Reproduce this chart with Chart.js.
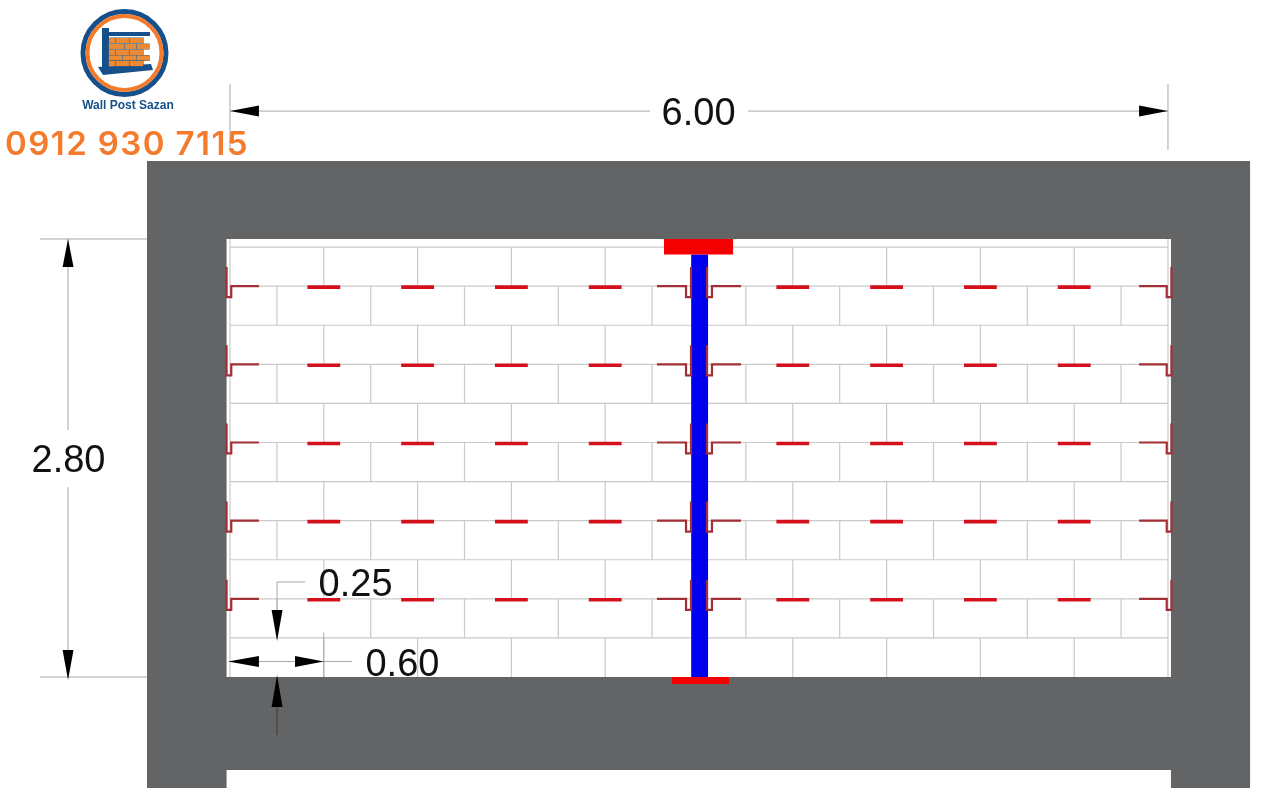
<!DOCTYPE html>
<html>
<head>
<meta charset="utf-8">
<title>Wall Post Sazan</title>
<script src="https://cdn.jsdelivr.net/npm/chart.js@4"></script>
<style>
  html, body { margin: 0; padding: 0; background: #fff; overflow: hidden; }
  canvas { display: block; }
</style>
</head>
<body>
<canvas id="myChart" width="1280" height="788"></canvas>
<script>
// everything below is in metres, the wall's lower left corner is 0,0
const wallWidth = 6;
const courseHeight = 0.25;
const courses = [1, 2, 3, 4, 5, 6, 7, 8, 9, 10, 11];
const jointsEven = [0.6, 1.2, 1.8, 2.4, 3.0, 3.6, 4.2, 4.8, 5.4];
const jointsOdd = [0.3, 0.9, 1.5, 2.1, 2.7, 3.3, 3.9, 4.5, 5.1, 5.7];

const tieLevels = [0.5, 1.0, 1.5, 2.0, 2.5];
const dashCenters = [0.6, 1.2, 1.8, 2.4, 3.6, 4.2, 4.8, 5.4];
const dashHalf = 0.105;
const wallTieX = [-0.022, -0.022, 0.008, 0.008, 0.185];
const wallTieY = [0.122, -0.07, -0.07, 0, 0];
const postTieX = [2.731, 2.917, 2.917, 2.949, 2.949];
const postTieY = [0, 0, -0.07, -0.07, 0.122];

// x0, x1, y0, y1
const frameOuter = [-0.531, 6.525, -0.71, 3.301];
const wallOpening = [-0.022, 6.019, 0, 2.802];
const lowerOpening = [-0.022, 6.019, -0.71, -0.595];
const post = [2.95, 3.058, 0, 2.702];
const topPlate = [2.776, 3.218, 2.702, 2.802];
const bottomPlate = [2.827, 3.192, -0.045, 0];

const dimLabels = ['6.00', '2.80', '0.25', '0.60'];
const dimLabelX = [2.997, -1.033, 0.803, 1.103];
const dimLabelY = [3.6, 1.381, 0.583, 0.076];

// each dimension line as x0, y0, x1, y1
const lightLines = [
  [0, 3.62, 2.687, 3.62], [3.313, 3.62, 6, 3.62],
  [0, 3.371, 0, 3.793], [6, 3.371, 6, 3.793],
  [-1.036, 1.58, -1.036, 2.802], [-1.036, 0, -1.036, 1.215],
  [-1.215, 2.802, -0.531, 2.802], [-1.215, 0, -0.531, 0],
  [0.301, 0.43, 0.301, 0.608], [0.301, 0.608, 0.48, 0.608],
  [0.185, 0.099, 0.78, 0.099], [0.6, 0, 0.6, 0.285]
];
const darkLines = [[0.301, -0.371, 0.301, -0.192]];

// arrow as tip x, tip y, base x, base y
const arrows = [
  [0, 3.62, 0.185, 3.62], [6, 3.62, 5.815, 3.62],
  [-1.036, 2.802, -1.036, 2.622], [-1.036, -0.019, -1.036, 0.173],
  [0.301, 0.23, 0.301, 0.429], [0.301, 0.013, 0.301, -0.192],
  [-0.013, 0.099, 0.185, 0.099], [0.6, 0.099, 0.416, 0.099]
];
const arrowHalf = 0.035;

// logo, on its own axes that count page pixels
const logoCenter = [124.5, 53];
const logoPost = [102, 109, 28, 72];
const logoRail = [109, 150, 32, 36];
const logoSlabX = [98, 151, 153, 103];
const logoSlabY = [67, 64, 70, 75];
const brickRowTop = [38, 44, 50, 55.5, 61];
const brickRowBottom = [43, 49, 55, 60.5, 66];
const brickStart = [[110, 116, 130], [109, 125, 137], [109, 116, 130], [109, 123, 137], [109, 116, 130]];
const brickEnd = [[115, 129, 143], [124, 136, 149], [115, 129, 143], [122, 136, 149], [115, 129, 143]];

const logoName = 'Wall Post Sazan';
const phone = '0912 930 7115';

const colGrey = '#636466';
const colBrickLine = '#c9c9c9';
const colTie = '#a32f36';
const colDash = '#d3101c';
const colNavy = '#15508a';
const colOrange = '#f47a2c';
const colBrick = '#ea8a35';

let layers = [];

function polygon(xs, ys, color, onLogo) {
  let pts = xs.map((x, i) => ({x: x, y: ys[i]}));
  pts.push(pts[0]);
  layers.push({
    data: pts, showLine: true, pointRadius: 0, borderWidth: 0,
    fill: 'shape', backgroundColor: color, borderColor: color,
    xAxisID: onLogo ? 'lx' : 'x', yAxisID: onLogo ? 'ly' : 'y'
  });
}

function rect(r, color, onLogo) {
  polygon([r[0], r[1], r[1], r[0]], [r[2], r[2], r[3], r[3]], color, onLogo);
}

function polyline(xs, ys, color, width) {
  layers.push({
    data: xs.map((x, i) => ({x: x, y: ys[i]})),
    showLine: true, pointRadius: 0, borderWidth: width, borderColor: color,
    borderCapStyle: 'butt', borderJoinStyle: 'miter', fill: false
  });
}

function ring(radius, width, color) {
  layers.push({
    data: [{x: logoCenter[0], y: logoCenter[1]}],
    xAxisID: 'lx', yAxisID: 'ly', pointRadius: radius, pointBorderWidth: width,
    pointBorderColor: color, pointBackgroundColor: 'rgba(255,255,255,0)'
  });
}

// frame and wall
rect(frameOuter, colGrey);
rect(wallOpening, '#ffffff');
rect(lowerOpening, '#ffffff');

// bricks
for (let k of courses) {
  polyline([0, wallWidth], [k * courseHeight, k * courseHeight], colBrickLine, 1.2);
  let joints = (k % 2 == 1) ? jointsEven : jointsOdd;
  for (let x of joints) {
    polyline([x, x], [(k - 1) * courseHeight, k * courseHeight], colBrickLine, 1.2);
  }
}
polyline([0, 0], [0, 2.802], colBrickLine, 1.2);
polyline([wallWidth, wallWidth], [0, 2.802], colBrickLine, 1.2);

// post and plates
rect(post, '#0000ee');
rect(topPlate, '#f40000');
rect(bottomPlate, '#f40000');

// ties
for (let level of tieLevels) {
  for (let c of dashCenters) {
    polyline([c - dashHalf, c + dashHalf], [level - 0.006, level - 0.006], colDash, 3.6);
  }
  let wy = wallTieY.map(y => level + y);
  let py = postTieY.map(y => level + y);
  polyline(wallTieX, wy, colTie, 2.2);
  polyline(wallTieX.map(x => wallWidth - x), wy, colTie, 2.2);
  polyline(postTieX, py, colTie, 2.2);
  polyline(postTieX.map(x => wallWidth - x), py, colTie, 2.2);
}

// dimensions
for (let l of lightLines) polyline([l[0], l[2]], [l[1], l[3]], '#a8a8a8', 1);
for (let l of darkLines) polyline([l[0], l[2]], [l[1], l[3]], '#3c3c3c', 1);
for (let a of arrows) {
  if (a[1] == a[3]) {
    polygon([a[0], a[2], a[2]], [a[1], a[3] + arrowHalf, a[3] - arrowHalf], '#000000');
  } else {
    polygon([a[0], a[2] + arrowHalf, a[2] - arrowHalf], [a[1], a[3], a[3]], '#000000');
  }
}

// logo
ring(41.5, 5, colNavy);
ring(37, 4, colOrange);
rect(logoRail, colNavy, true);
polygon(logoSlabX, logoSlabY, colNavy, true);
rect(logoPost, colNavy, true);
brickRowTop.forEach((top, r) => {
  brickStart[r].forEach((s, i) => {
    let e = brickEnd[r][i], b = brickRowBottom[r];
    rect([s - 0.6, e + 0.6, top - 0.6, b + 0.6], '#4a5f72', true);
    rect([s, e, top, b], colBrick, true);
  });
});

// Chart.js paints the first dataset last, the list above goes bottom to top
layers.reverse();

const textPlugin = {
  id: 'texts',
  afterDatasetsDraw(chart) {
    const c = chart.ctx;
    const {x, y, lx, ly} = chart.scales;
    c.save();
    c.textAlign = 'center';
    c.textBaseline = 'middle';
    c.fillStyle = '#111111';
    c.font = '38px "Liberation Sans"';
    dimLabels.forEach((t, i) => {
      c.fillText(t, x.getPixelForValue(dimLabelX[i]), y.getPixelForValue(dimLabelY[i]));
    });
    c.fillStyle = colNavy;
    c.font = 'bold 12px "Liberation Sans"';
    c.fillText(logoName, lx.getPixelForValue(128), ly.getPixelForValue(105.5));
    c.fillStyle = colOrange;
    c.font = '600 33px Inter';
    c.letterSpacing = '1.4px';
    c.fillText(phone, lx.getPixelForValue(127), ly.getPixelForValue(145));
    c.restore();
  }
};

new Chart(document.getElementById('myChart'), {
  type: 'scatter',
  data: { datasets: layers },
  options: {
    responsive: false,
    animation: false,
    devicePixelRatio: 1,
    layout: { padding: 0, autoPadding: false },
    plugins: { legend: { display: false }, tooltip: { enabled: false } },
    scales: {
      x: { display: false, min: -1.4713, max: 6.7165 },
      y: { display: false, min: -0.71, max: 4.3306 },
      lx: { axis: 'x', display: false, min: 0, max: 1280 },
      ly: { axis: 'y', display: false, min: 0, max: 788, reverse: true }
    }
  },
  plugins: [textPlugin]
});
</script>
</body>
</html>
